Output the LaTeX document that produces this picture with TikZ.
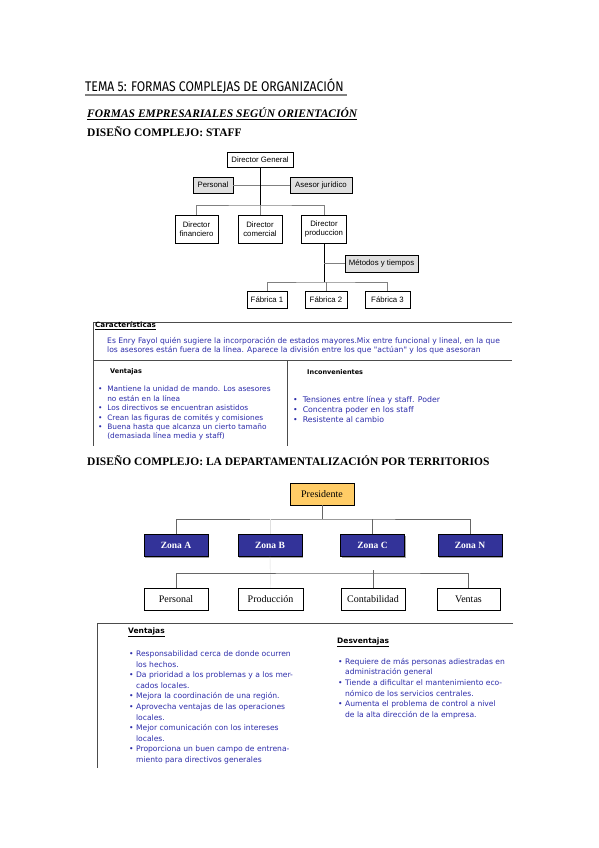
\documentclass[tikz,border=0pt]{standalone}
\usepackage{fontspec}
\setmainfont{Liberation Serif}
\newfontfamily\chartfont{Liberation Sans}
\newfontfamily\notefont{DejaVu Sans}
\newfontfamily\titlefont{Fira Sans}
\usetikzlibrary{shadows}
\definecolor{notecolor}{RGB}{45,45,170}
\definecolor{zonacolor}{RGB}{51,51,153}
\definecolor{prescolor}{RGB}{255,204,102}

\begin{document}
\begin{tikzpicture}[x=1pt,y=-1pt,
  staff node/.style={draw,fill=white,inner sep=0pt,align=center,
    font=\chartfont\fontsize{7.8}{8.8}\selectfont},
  aux node/.style={staff node,fill=gray!25},
  terr node/.style={draw,fill=white,inner sep=0pt,minimum width=64pt,minimum height=22pt,
    font=\fontsize{10}{12}\selectfont,drop shadow={shadow xshift=1pt,shadow yshift=-1pt,fill=gray!70,opacity=1}},
  zona node/.style={terr node,fill=zonacolor,text=white,font=\bfseries\fontsize{9.5}{11}\selectfont},
  heading/.style={anchor=west,inner sep=0pt,font=\bfseries\fontsize{11.5}{13}\selectfont},
  note/.style={anchor=north west,inner sep=0pt,align=left,text=notecolor},
  note head/.style={anchor=west,inner sep=0pt,font=\notefont\bfseries\fontsize{6.5}{8}\selectfont}]

  \useasboundingbox[fill=white] (0,0) rectangle (599,848);

  % titles
  \node[anchor=west,inner sep=0pt,font=\titlefont\fontsize{14}{16}\selectfont] (title) at (85,86)
    {\scalebox{0.87}[1]{TEMA 5: FORMAS COMPLEJAS DE ORGANIZACIÓN}};
  \draw[gray,line width=1.3pt] (title.south west) ++(0,1.5) -- ++(262,0);
  \node[heading,font=\bfseries\itshape\fontsize{11.5}{13}\selectfont] (orient) at (87,113)
    {FORMAS EMPRESARIALES SEGÚN ORIENTACIÓN};
  \draw ([yshift=-1.5pt]orient.south west) -- ([yshift=-1.5pt]orient.south east);
  \node[heading] (staffhead) at (87,132) {DISEÑO COMPLEJO: STAFF};

  % staff chart
  \node[staff node,minimum width=66pt,minimum height=15pt] (dg) at (260,159.5) {Director General};
  \node[aux node,minimum width=40pt,minimum height=16pt] (pers) at (213,185) {Personal};
  \node[aux node,minimum width=62pt,minimum height=16pt] (ases) at (321,185) {Asesor jurídico};
  \node[staff node,minimum width=43pt,minimum height=28pt] (fin) at (196.5,229) {Director\\financiero};
  \node[staff node,minimum width=44pt,minimum height=28pt] (com) at (260,229) {Director\\comercial};
  \node[staff node,minimum width=45pt,minimum height=28pt] (prod) at (324,229) {Director\\produccion};
  \node[aux node,minimum width=73pt,minimum height=17pt] (met) at (381.5,263.5) {Métodos y tiempos};
  \node[staff node,minimum width=40pt,minimum height=17pt] (f1) at (267,299.5) {Fábrica 1};
  \node[staff node,minimum width=42pt,minimum height=17pt] (f2) at (326,299.5) {Fábrica 2};
  \node[staff node,minimum width=45pt,minimum height=17pt] (f3) at (387.5,299.5) {Fábrica 3};

  \coordinate (dgj) at (260,205);
  \coordinate (prj) at (324,282);
  \draw[gray] (pers) -- (ases);
  \draw[gray] (fin.north) |- (dgj) -| (prod.north);
  \draw[gray] (com.north) -- (dgj);
  \draw[thick] (dg.south) -- (dgj);
  \draw[thick] (prod.south) -- (prj);
  \draw[gray] (met.west) -- (met.west -| prod.south);
  \draw[gray] (f1.north) |- (prj) -| (f3.north);
  \draw[gray] (f2.north) -- (f2.north |- prj);

  % staff table
  \draw[gray!60!black] (512,322) -- (93,322) -- (93,446);
  \draw[gray!60!black] (93,360) -- (512,360);
  \draw[gray!60!black] (287,360) -- (287,446);
  \node[note head,font=\notefont\bfseries\fontsize{7.2}{8}\selectfont] (carac) at (95,326) {\underline{Características}};
  \node[note,font=\notefont\fontsize{7.6}{9}\selectfont] (caractxt) at (107,337.5)
    {Es Enry Fayol quién sugiere la incorporación de estados mayores.Mix entre funcional y lineal, en la que\\
     los asesores están fuera de la línea. Aparece la división entre los que "actúan" y los que asesoran};
  \node[note head] (vent) at (110,372) {Ventajas};
  \node[note head] (inconv) at (307,372) {Inconvenientes};
  \node[note,font=\notefont\fontsize{7.4}{9.4}\selectfont] (venttxt) at (98,386)
    {•\ \ Mantiene la unidad de mando. Los asesores\\
     \phantom{•\ \ }no están en la línea\\
     •\ \ Los directivos se encuentran asistidos\\
     •\ \ Crean las figuras de comités y comisiones\\
     •\ \ Buena hasta que alcanza un cierto tamaño\\
     \phantom{•\ \ }(demasiada línea media y staff)};
  \node[note,font=\notefont\fontsize{7.8}{10}\selectfont] (inconvtxt) at (293,396)
    {•\ \ Tensiones entre línea y staff. Poder\\
     •\ \ Concentra poder en los staff\\
     •\ \ Resistente al cambio};

  % territorios
  \node[heading] (terrhead) at (87,461) {DISEÑO COMPLEJO: LA DEPARTAMENTALIZACIÓN POR TERRITORIOS};

  \node[terr node,fill=prescolor] (pres) at (322,494) {Presidente};
  \node[zona node] (za) at (176,545.5) {Zona A};
  \node[zona node] (zb) at (270,545.5) {Zona B};
  \node[zona node] (zc) at (372.5,545.5) {Zona C};
  \node[zona node] (zn) at (470,545.5) {Zona N};
  \node[terr node] (dpers) at (176,599) {Personal};
  \node[terr node,minimum width=65pt] (dprod) at (270.5,599) {Producción};
  \node[terr node] (dcont) at (373,599) {Contabilidad};
  \node[terr node,minimum width=63pt] (dvent) at (468.5,599) {Ventas};

  \coordinate (pj) at (322,519);
  \coordinate (dj) at (373,573);
  \draw[thick,gray!80!black] (pres.south) -- (pj);
  \draw[thick,gray!80!black] (za.north) |- (pj) -| (zn.north);
  \draw[thick,gray!80!black] (zc.north) -- (zc.north |- pj);
  \draw[gray!25] (zb.north |- pj) -- (zb.north);
  \draw[gray!25] (zb.south) -- (dprod.north);
  \draw[thick,gray!80!black] (dpers.north) |- (dj) -| (dvent.north);
  \draw[thick,gray!80!black] (dcont.north) -- ++(0,-18);

  % tabla territorios
  \draw[gray!60!black] (513,623) -- (97,623) -- (97,768);
  \node[note head,font=\notefont\bfseries\fontsize{7.5}{9}\selectfont] (vent2) at (128,632) {\underline{Ventajas}};
  \node[note,font=\notefont\fontsize{7.6}{10.6}\selectfont] (vent2txt) at (129,650.5)
    {•\ Responsabilidad cerca de donde ocurren\\
     \phantom{•\ }los hechos.\\
     •\ Da prioridad a los problemas y a los mer-\\
     \phantom{•\ }cados locales.\\
     •\ Mejora la coordinación de una región.\\
     •\ Aprovecha ventajas de las operaciones\\
     \phantom{•\ }locales.\\
     •\ Mejor comunicación con los intereses\\
     \phantom{•\ }locales.\\
     •\ Proporciona un buen campo de entrena-\\
     \phantom{•\ }miento para directivos generales};
  \node[note head,font=\notefont\bfseries\fontsize{7.5}{9}\selectfont] (desv) at (337,642) {\underline{Desventajas}};
  \node[note,font=\notefont\fontsize{7.6}{10.6}\selectfont] (desvtxt) at (338,658)
    {•\ Requiere de más personas adiestradas en\\
     \phantom{•\ }administración general\\
     •\ Tiende a dificultar el mantenimiento eco-\\
     \phantom{•\ }nómico de los servicios centrales.\\
     •\ Aumenta el problema de control a nivel\\
     \phantom{•\ }de la alta dirección de la empresa.};
\end{tikzpicture}
\end{document}
